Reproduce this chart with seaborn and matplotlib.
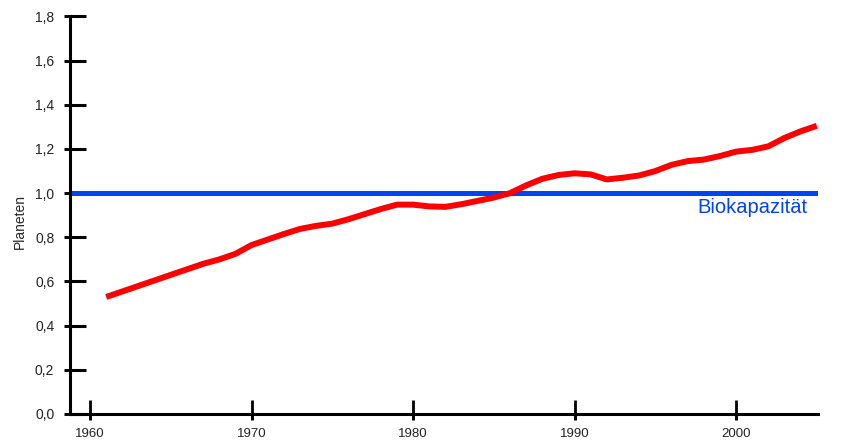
import matplotlib
matplotlib.use("Agg")
import matplotlib.pyplot as plt
from matplotlib.ticker import FixedLocator
import seaborn as sns
import pandas as pd

# ecological footprint in "planets", 1961-2005
years = list(range(1961, 2006))
footprint = [0.53, 0.555, 0.58, 0.605, 0.63, 0.655, 0.68, 0.70, 0.725, 0.765,
             0.79, 0.815, 0.838, 0.852, 0.862, 0.882, 0.905, 0.928, 0.948, 0.948,
             0.94, 0.938, 0.95, 0.965, 0.98, 1.0, 1.035, 1.065, 1.082, 1.09,
             1.085, 1.062, 1.07, 1.08, 1.10, 1.128, 1.145, 1.152, 1.168, 1.188,
             1.196, 1.212, 1.25, 1.28, 1.305]
biocapacity = 1.0
bio_label = "Biokapazität"

x_ticks = [1960, 1970, 1980, 1990, 2000]
y_ticks = [0.0, 0.2, 0.4, 0.6, 0.8, 1.0, 1.2, 1.4, 1.6, 1.8]
y_tick_labels = ["0,0", "0,2", "0,4", "0,6", "0,8", "1,0", "1,2", "1,4", "1,6", "1,8"]

df = pd.DataFrame({"Jahr": years, "Planeten": footprint})

sns.set_style("ticks")
plt.rcParams["font.family"] = ["Liberation Sans", "DejaVu Sans"]

fig = plt.figure(figsize=(8.5, 4.48), dpi=100)
ax = fig.add_axes([0.0818, 0.0759, 0.8806, 0.8873])

sns.lineplot(data=df, x="Jahr", y="Planeten", ax=ax, color="#ff0000",
             linewidth=4.3, solid_capstyle="butt", solid_joinstyle="round")
ax.axhline(biocapacity, color="#0044ee", linewidth=3.6, zorder=1)
ax.text(2004.4, 0.91, bio_label, color="#0044ee",
        fontsize=14.5, ha="right", va="baseline")

ax.set_xlim(1958.73, 2005.08)
ax.set_ylim(0, 1.8)
ax.set_xticks(x_ticks)
ax.set_xticklabels([str(v) for v in x_ticks], fontsize=9.5)
ax.set_yticks(y_ticks)
ax.set_yticklabels(y_tick_labels, fontsize=10)
ax.set_xlabel("")
ax.set_ylabel("Planeten", fontsize=10)
ax.yaxis.set_label_coords(-0.057, 0.485)

# ticks: long part inside, short stub outside
ax.xaxis.set_minor_locator(FixedLocator(x_ticks))
ax.yaxis.set_minor_locator(FixedLocator(y_ticks))
ax.xaxis.remove_overlapping_locs = False
ax.yaxis.remove_overlapping_locs = False

for side in ["top", "right"]:
    ax.spines[side].set_visible(False)
for side in ["left", "bottom"]:
    ax.spines[side].set_linewidth(2.2)
    ax.spines[side].set_color("black")
ax.tick_params(axis="y", which="major", direction="in", length=11.2, width=2.2,
               pad=11, colors="black", labelcolor="#222222")
ax.tick_params(axis="x", which="major", direction="in", length=10, width=2.0,
               pad=10, colors="black", labelcolor="#222222")
ax.tick_params(axis="both", which="minor", direction="out", length=4.3,
               width=2.1, colors="black")

fig.savefig("out.png", dpi=100)
